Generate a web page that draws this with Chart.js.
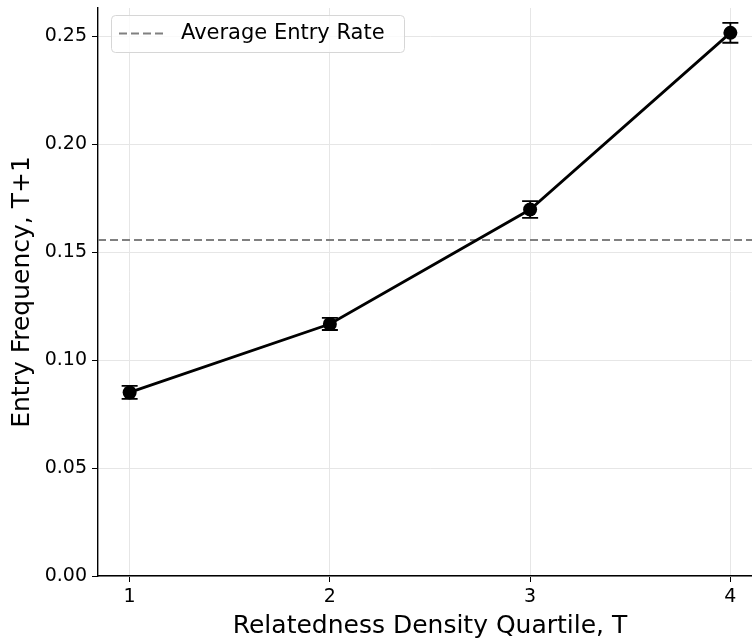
<!DOCTYPE html>
<html>
<head>
<meta charset="utf-8">
<script src="https://cdn.jsdelivr.net/npm/chart.js@4"></script>
<style>
  html, body { margin: 0; padding: 0; background: #fff; overflow: hidden; }
  #wrap { width: 769px; height: 641px; }
</style>
</head>
<body>
<div id="wrap"><canvas id="entry-chart" width="769" height="641"></canvas></div>
<script>
// data
const quartiles = [1, 2, 3, 4];
const entryFreq = [0.0850, 0.1167, 0.1697, 0.2515];
const entryErr = [0.0030, 0.0028, 0.0039, 0.0046];
const averageRate = 0.1556;
const xTicks = [1, 2, 3, 4];
const yTicks = [0, 0.05, 0.1, 0.15, 0.2, 0.25];

const FONT = "'DejaVu Sans', sans-serif";

const errorBars = {
  id: "errorBars",
  afterDatasetsDraw(chart) {
    const ctx = chart.ctx;
    const xs = chart.scales.x, ys = chart.scales.y;
    ctx.save();
    ctx.strokeStyle = "#000";
    ctx.lineWidth = 1.8;
    quartiles.forEach((q, i) => {
      const px = xs.getPixelForValue(q);
      const top = ys.getPixelForValue(entryFreq[i] + entryErr[i]);
      const bot = ys.getPixelForValue(entryFreq[i] - entryErr[i]);
      ctx.beginPath();
      ctx.moveTo(px, top); ctx.lineTo(px, bot);
      ctx.moveTo(px - 8, top); ctx.lineTo(px + 8, top);
      ctx.moveTo(px - 8, bot); ctx.lineTo(px + 8, bot);
      ctx.stroke();
    });
    ctx.restore();
  }
};

const avgLine = {
  id: "avgLine",
  beforeDatasetsDraw(chart) {
    const ctx = chart.ctx, a = chart.chartArea;
    const py = chart.scales.y.getPixelForValue(averageRate);
    ctx.save();
    ctx.strokeStyle = "#808080";
    ctx.lineWidth = 2;
    ctx.setLineDash([8, 4]);
    ctx.beginPath();
    ctx.moveTo(a.left, py); ctx.lineTo(a.right, py);
    ctx.stroke();
    ctx.restore();
  }
};

const boxLegend = {
  id: "boxLegend",
  afterDraw(chart) {
    const ctx = chart.ctx;
    const x = 111, y = 15, w = 293, h = 37, r = 4;
    ctx.save();
    ctx.fillStyle = "rgba(255,255,255,0.8)";
    ctx.strokeStyle = "#d6d6d6";
    ctx.lineWidth = 1;
    ctx.beginPath();
    ctx.roundRect(x + 0.5, y + 0.5, w, h, r);
    ctx.fill(); ctx.stroke();
    ctx.strokeStyle = "#808080";
    ctx.lineWidth = 2;
    ctx.setLineDash([8, 4]);
    ctx.beginPath();
    ctx.moveTo(119, 33.5); ctx.lineTo(163, 33.5);
    ctx.stroke();
    ctx.fillStyle = "#000";
    ctx.font = "21px " + FONT;
    ctx.textBaseline = "middle";
    ctx.fillText("Average Entry Rate", 181, 34);
    ctx.restore();
  }
};

new Chart(document.getElementById("entry-chart"), {
  type: "line",
  data: {
    datasets: [{
      data: quartiles.map((q, i) => ({ x: q, y: entryFreq[i] })),
      borderColor: "#000",
      backgroundColor: "#000",
      borderWidth: 2.8,
      pointRadius: 7,
      pointBackgroundColor: "#000",
      pointBorderWidth: 0,
      tension: 0
    }]
  },
  options: {
    responsive: false,
    animation: false,
    layout: { padding: { top: 8, right: 1, left: 0, bottom: 0 } },
    plugins: { legend: { display: false }, tooltip: { enabled: false } },
    scales: {
      x: {
        type: "linear",
        min: 0.842,
        max: 4.158,
        afterBuildTicks: s => { s.ticks = xTicks.map(v => ({ value: v })); },
        afterFit: s => { s.height = 65; },
        ticks: { color: "#000", font: { family: FONT, size: 19 }, padding: 4 },
        grid: { color: "#e6e6e6", lineWidth: 1, tickColor: "#000", tickLength: 6 },
        border: { color: "#000", width: 1.4 },
        title: { display: true, text: "Relatedness Density Quartile, T", color: "#000",
                 font: { family: FONT, size: 25 }, padding: { top: 4, bottom: 0 } }
      },
      y: {
        type: "linear",
        min: 0,
        max: 0.263,
        afterBuildTicks: s => { s.ticks = yTicks.map(v => ({ value: v })); },
        afterFit: s => { s.width = 98; s.paddingTop = 0; s.paddingBottom = 0; },
        ticks: { color: "#000", font: { family: FONT, size: 19 }, padding: 5,
                 callback: v => v.toFixed(2) },
        grid: { color: "#e6e6e6", lineWidth: 1, tickColor: "#000", tickLength: 6 },
        border: { color: "#000", width: 1.4 },
        title: { display: true, text: "Entry Frequency, T+1", color: "#000",
                 font: { family: FONT, size: 25 }, padding: { top: 7, bottom: 0 } }
      }
    }
  },
  plugins: [avgLine, errorBars, boxLegend]
});
</script>
</body>
</html>
